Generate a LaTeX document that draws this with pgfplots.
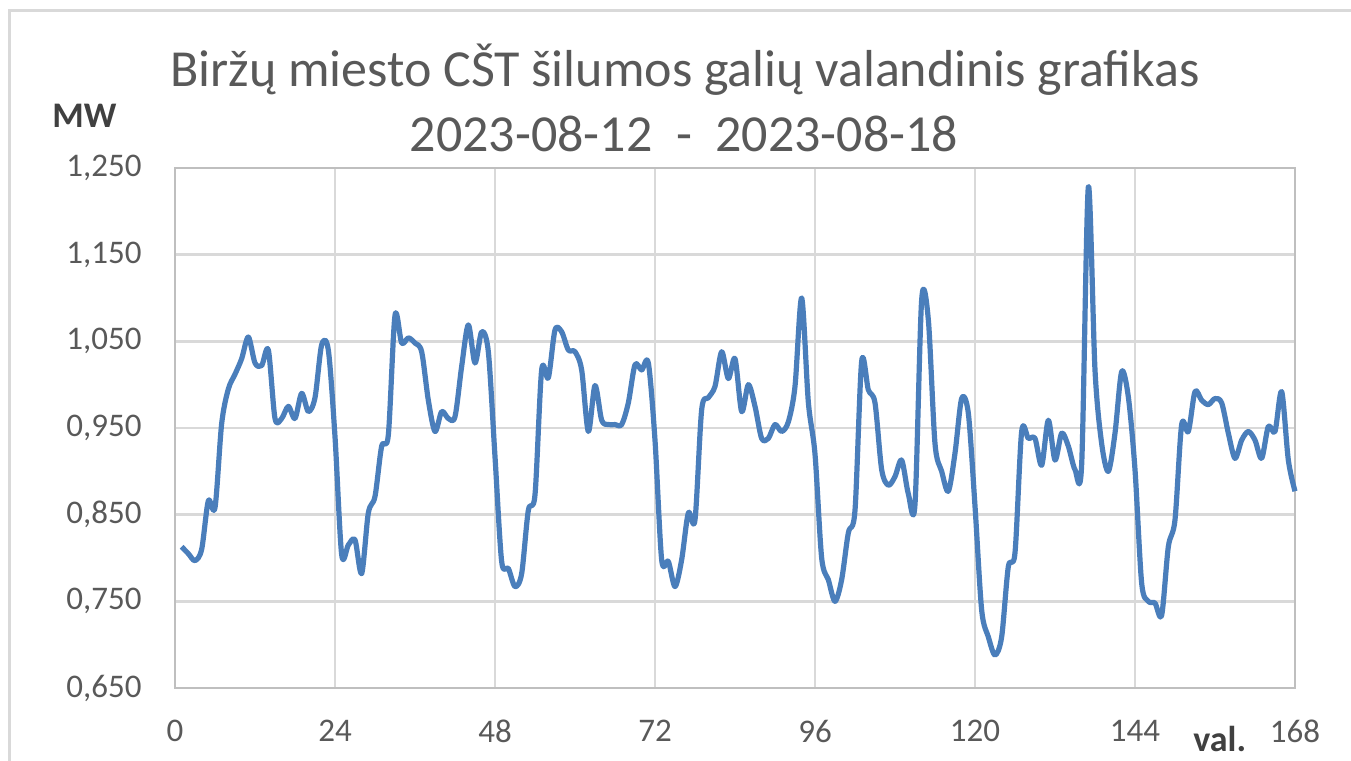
\documentclass[border=0pt]{standalone}
\usepackage{pgfplots}
\pgfplotsset{compat=1.18}
\usepackage{pgfplotstable}
\usepackage{fontspec}
\setmainfont{Carlito}
\definecolor{txtgray}{HTML}{595959}
\definecolor{lblgray}{HTML}{404040}
\definecolor{gridgray}{HTML}{D9D9D9}
\definecolor{boxgray}{HTML}{BFBFBF}
\definecolor{lineblue}{HTML}{4A7EBB}
\pgfplotstableread{
h v
1 0.813
2 0.805
3 0.797
4 0.810
5 0.866
6 0.858
7 0.955
8 0.995
9 1.012
10 1.030
11 1.055
12 1.025
13 1.022
14 1.040
15 0.961
16 0.961
17 0.975
18 0.961
19 0.990
20 0.969
21 0.985
22 1.046
23 1.040
24 0.940
25 0.804
26 0.815
27 0.821
28 0.782
29 0.852
30 0.871
31 0.929
32 0.942
33 1.080
34 1.048
35 1.054
36 1.048
37 1.038
38 0.982
39 0.946
40 0.969
41 0.961
42 0.963
43 1.021
44 1.069
45 1.025
46 1.061
47 1.038
48 0.917
49 0.796
50 0.788
51 0.767
52 0.782
53 0.855
54 0.873
55 1.017
56 1.008
57 1.063
58 1.061
59 1.040
60 1.038
61 1.017
62 0.946
63 0.999
64 0.959
65 0.954
66 0.954
67 0.954
68 0.979
69 1.023
70 1.017
71 1.025
72 0.936
73 0.798
74 0.796
75 0.767
76 0.798
77 0.852
78 0.844
79 0.971
80 0.985
81 0.998
82 1.038
83 1.007
84 1.030
85 0.969
86 1.000
87 0.975
88 0.938
89 0.938
90 0.954
91 0.946
92 0.957
93 0.998
94 1.100
95 0.980
96 0.920
97 0.800
98 0.775
99 0.750
100 0.775
101 0.829
102 0.855
103 1.027
104 0.994
105 0.979
106 0.902
107 0.884
108 0.894
109 0.913
110 0.874
111 0.862
112 1.098
113 1.075
114 0.932
115 0.900
116 0.877
117 0.921
118 0.984
119 0.967
120 0.860
121 0.740
122 0.709
123 0.688
124 0.709
125 0.790
126 0.806
127 0.946
128 0.938
129 0.938
130 0.907
131 0.959
132 0.913
133 0.944
134 0.929
135 0.902
136 0.908
137 1.228
138 1.017
139 0.932
140 0.900
141 0.944
142 1.015
143 0.986
144 0.902
145 0.771
146 0.750
147 0.748
148 0.734
149 0.813
150 0.844
151 0.954
152 0.946
153 0.992
154 0.982
155 0.977
156 0.984
157 0.979
158 0.944
159 0.915
160 0.936
161 0.946
162 0.936
163 0.915
164 0.952
165 0.946
166 0.992
167 0.913
168 0.877
}\datatable
\begin{document}
\begin{tikzpicture}
\useasboundingbox (0,0) rectangle (675.5pt,380.5pt);
\fill[white] (0,0) rectangle (675.5pt,380.5pt);
\draw[gridgray, line width=1.2pt] (4.75pt,0) -- (4.75pt,375.25pt) -- (676pt,375.25pt);
\begin{axis}[
  at={(87.5pt,36.5pt)}, anchor=south west,
  scale only axis, width=560pt, height=260pt,
  xmin=0, xmax=168, ymin=0.65, ymax=1.25,
  xtick={0,24,...,168},
  ytick={0.65,0.75,...,1.25},
  major tick length=0pt,
  grid=major,
  major grid style={gridgray, line width=1.4pt},
  axis line style={boxgray, line width=1.3pt},
  tick style={draw=none},
  /pgf/number format/assume math mode=true,
  ticklabel style={font=\fontsize{16.5}{20}\selectfont, text=txtgray},
  yticklabel style={anchor=east, inner sep=0pt, xshift=-16.5pt,
    /pgf/number format/fixed, /pgf/number format/fixed zerofill,
    /pgf/number format/precision=3, /pgf/number format/use comma},
  xticklabel style={anchor=north, inner sep=0pt, yshift=-16pt},
  scaled y ticks=false,
  clip=false,
]
\addplot[lineblue, line width=2.6pt, smooth, tension=0.5, line join=round] table[x=h, y=v] {\datatable};
\end{axis}
\node[anchor=base, text=txtgray, font=\fontsize{26}{31}\selectfont] at (342.5pt,337pt) {Biržų miesto CŠT šilumos galių valandinis grafikas};
\node[anchor=base, text=txtgray, font=\fontsize{26}{31}\selectfont] at (342pt,304.5pt) {2023-08-12\ \ -\ \ 2023-08-18};
\node[anchor=base west, inner sep=0pt, text=lblgray, font=\bfseries\fontsize{18}{22}\selectfont] at (26pt,316.5pt) {MW};
\node[anchor=base west, inner sep=0pt, text=lblgray, font=\bfseries\fontsize{18}{22}\selectfont] at (596.5pt,4.5pt) {val.};
\end{tikzpicture}
\end{document}
